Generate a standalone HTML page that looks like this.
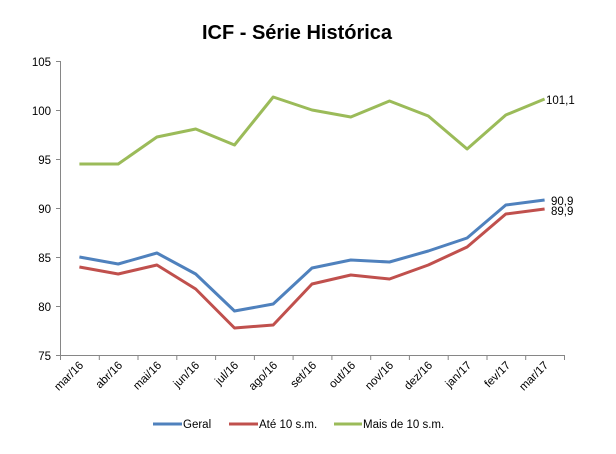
<!DOCTYPE html>
<html><head><meta charset="utf-8"><style>
body{margin:0;background:#fff}
svg text{font-family:"Liberation Sans",sans-serif;fill:#000}
</style></head><body>
<svg width="616" height="449" viewBox="0 0 616 449" xmlns="http://www.w3.org/2000/svg">
<text x="297" y="39" font-size="20" font-weight="bold" text-anchor="middle">ICF - Série Histórica</text>
<g stroke="#868686" stroke-width="1" fill="none">
<line x1="60.5" y1="61" x2="60.5" y2="355"/>
<line x1="60" y1="355.5" x2="564" y2="355.5"/>
<line x1="56" y1="61.5" x2="60" y2="61.5"/><line x1="56" y1="110.5" x2="60" y2="110.5"/><line x1="56" y1="159.5" x2="60" y2="159.5"/><line x1="56" y1="208.5" x2="60" y2="208.5"/><line x1="56" y1="257.5" x2="60" y2="257.5"/><line x1="56" y1="306.5" x2="60" y2="306.5"/><line x1="56" y1="355.5" x2="60" y2="355.5"/>
<path d="M60.5 355v5M99.3 355v5M138 355v5M176.8 355v5M215.6 355v5M254.4 355v5M293.1 355v5M331.9 355v5M370.7 355v5M409.4 355v5M448.2 355v5M487 355v5M525.7 355v5M564.5 355v5"/>
</g>
<g font-size="11.5" text-anchor="end">
<text x="51" y="66">105</text><text x="51" y="115">100</text><text x="51" y="164">95</text><text x="51" y="213">90</text><text x="51" y="262">85</text><text x="51" y="311">80</text><text x="51" y="360">75</text>
</g>
<g font-size="11.5" text-anchor="end">
<text transform="translate(84,366) rotate(-45)">mar/16</text>
<text transform="translate(123,366) rotate(-45)">abr/16</text>
<text transform="translate(162,366) rotate(-45)">mai/16</text>
<text transform="translate(200,366) rotate(-45)">jun/16</text>
<text transform="translate(239,366) rotate(-45)">jul/16</text>
<text transform="translate(278,366) rotate(-45)">ago/16</text>
<text transform="translate(317,366) rotate(-45)">set/16</text>
<text transform="translate(356,366) rotate(-45)">out/16</text>
<text transform="translate(394,366) rotate(-45)">nov/16</text>
<text transform="translate(433,366) rotate(-45)">dez/16</text>
<text transform="translate(472,366) rotate(-45)">jan/17</text>
<text transform="translate(511,366) rotate(-45)">fev/17</text>
<text transform="translate(549,366) rotate(-45)">mar/17</text>
</g>
<g fill="none" stroke-width="3" stroke-linejoin="round">
<polyline stroke="#9bbb59" points="79.4,164 118.2,164 156.9,137 195.7,129 234.5,145 273.2,97 312,110 350.8,117 389.5,101 428.3,116 467.1,149 505.8,115 544.6,99"/>
<polyline stroke="#c0504d" points="79.4,267 118.2,274 156.9,265 195.7,289 234.5,328 273.2,325 312,284 350.8,275 389.5,279 428.3,265 467.1,247 505.8,214 544.6,209"/>
<polyline stroke="#4f81bd" points="79.4,257 118.2,264 156.9,253 195.7,274 234.5,311 273.2,304 312,268 350.8,260 389.5,262 428.3,251 467.1,238 505.8,205 544.6,200"/>
</g>
<g font-size="11.5">
<text x="546" y="104">101,1</text>
<text x="551" y="205">90,9</text>
<text x="551" y="215">89,9</text>
</g>
<g stroke-width="3">
<line x1="153" y1="424" x2="182" y2="424" stroke="#4f81bd"/>
<line x1="229" y1="424" x2="258" y2="424" stroke="#c0504d"/>
<line x1="334" y1="424" x2="362" y2="424" stroke="#9bbb59"/>
</g>
<g font-size="11.5">
<text x="183" y="428">Geral</text>
<text x="259" y="428">Até 10 s.m.</text>
<text x="363" y="428">Mais de 10 s.m.</text>
</g>
</svg>
</body></html>
